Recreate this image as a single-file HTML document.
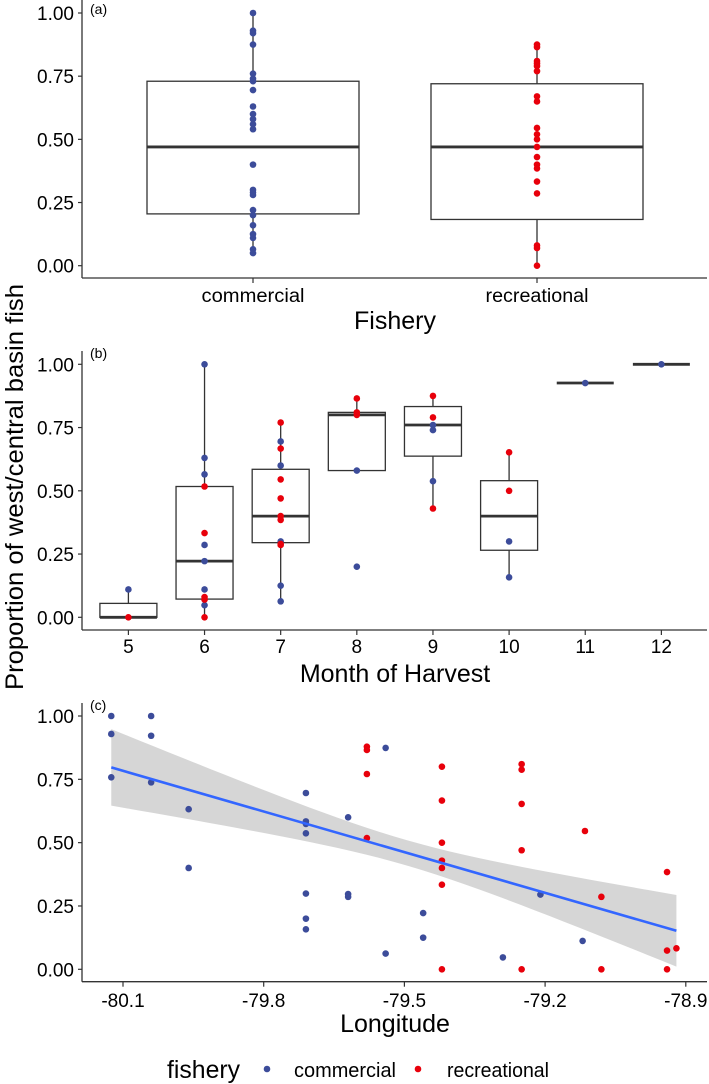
<!DOCTYPE html>
<html><head><meta charset="utf-8">
<style>
html,body{margin:0;padding:0;background:#fff;}
svg{display:block;font-family:"Liberation Sans",Arial,sans-serif;}
</style></head>
<body>
<svg id="fig" width="709" height="1084" viewBox="0 0 709 1084" xmlns="http://www.w3.org/2000/svg"></svg>
<script>
// ---------- Panel (a) data ----------
const fisheryCats = ["commercial","recreational"];
const aBoxQ1 = [0.205, 0.183];
const aBoxMed = [0.47, 0.47];
const aBoxQ3 = [0.73, 0.72];
const aBoxLo = [0.05, 0.0];
const aBoxHi = [1.0, 0.875];
const aCommercial = [1.0,0.93,0.92,0.875,0.76,0.74,0.73,0.695,0.63,0.60,0.58,0.56,0.54,0.40,0.30,0.29,0.28,0.22,0.20,0.16,0.125,0.11,0.065,0.05];
const aRecreational = [0.875,0.865,0.81,0.80,0.79,0.77,0.67,0.65,0.545,0.52,0.50,0.47,0.43,0.40,0.385,0.333,0.286,0.08,0.07,0.0];
const yTicks = ["0.00","0.25","0.50","0.75","1.00"];
const yTickVals = [0,0.25,0.5,0.75,1];

// ---------- Panel (b) data ----------
const months = [5,6,7,8,9,10,11,12];
const bQ1 = [0,0.072,0.295,0.58,0.637,0.265,0.926,1.0];
const bMed = [0,0.222,0.40,0.80,0.76,0.40,0.926,1.0];
const bQ3 = [0.055,0.517,0.585,0.81,0.833,0.54,0.926,1.0];
const bLo = [0,0,0.063,0.58,0.43,0.158,0.926,1.0];
const bHi = [0.11,1.0,0.77,0.865,0.875,0.652,0.926,1.0];
const bComMonth = [5,6,6,6,6,6,6,6,7,7,7,7,7,8,8,9,9,9,10,10,11,12];
const bComVal = [0.11,1.0,0.63,0.565,0.286,0.222,0.11,0.048,0.695,0.60,0.30,0.125,0.063,0.58,0.20,0.76,0.74,0.538,0.30,0.158,0.926,1.0];
const bRecMonth = [5,6,6,6,6,6,7,7,7,7,7,7,7,7,8,8,8,9,9,9,10,10];
const bRecVal = [0,0.517,0.333,0.08,0.07,0,0.77,0.667,0.545,0.47,0.40,0.385,0.29,0.286,0.865,0.81,0.80,0.875,0.79,0.43,0.652,0.50];

// ---------- Panel (c) data ----------
const lonTicks = [-80.1,-79.8,-79.5,-79.2,-78.9];
const lonTickLabels = ["-80.1","-79.8","-79.5","-79.2","-78.9"];
const cComLon = [-80.125,-80.125,-80.125,-80.04,-80.04,-80.04,-79.96,-79.96,-79.71,-79.71,-79.71,-79.71,-79.71,-79.71,-79.71,-79.62,-79.62,-79.62,-79.54,-79.54,-79.46,-79.46,-79.29,-79.21,-79.12];
const cComVal = [1.0,0.929,0.758,1.0,0.922,0.738,0.632,0.40,0.696,0.584,0.574,0.537,0.299,0.20,0.158,0.60,0.297,0.286,0.874,0.062,0.222,0.125,0.047,0.295,0.112];
const cRecLon = [-79.58,-79.58,-79.58,-79.58,-79.42,-79.42,-79.42,-79.42,-79.42,-79.42,-79.42,-79.25,-79.25,-79.25,-79.25,-79.25,-79.115,-79.08,-79.08,-78.94,-78.94,-78.94,-78.92];
const cRecVal = [0.879,0.866,0.771,0.518,0.80,0.666,0.50,0.429,0.40,0.334,0,0.81,0.788,0.653,0.47,0,0.546,0.286,0,0.384,0.074,0,0.083];
const fitLon = [-80.125,-78.92];
const fitVal = [0.797,0.152];
const ciCenterLon = [-79.5];
const ciMinHalf = [0.05];
const ciCurv = [0.052];

const NS="http://www.w3.org/2000/svg";
const svg=document.getElementById('fig');
const BLUE="#3C4C9A", RED="#E8000B", DARK="#333333";
function el(tag,attrs,parent){const e=document.createElementNS(NS,tag);for(const k in attrs)e.setAttribute(k,attrs[k]);(parent||svg).appendChild(e);return e;}
function txt(s,x,y,size,anchor,parent,tl){const t=el('text',{x:x,y:y,'font-size':size,'text-anchor':anchor||'middle',fill:'#000'},parent);if(tl){t.setAttribute('textLength',tl);t.setAttribute('lengthAdjust','spacingAndGlyphs');}t.textContent=s;return t;}

const X0=82, X1=707;
function yAxis(g,yMap,top,bottom,name){
  const ax=el('line',{x1:X0,y1:top,x2:X0,y2:bottom,stroke:DARK,'stroke-width':1.3},g);
  
  
  const xa=el('line',{x1:X0,y1:bottom,x2:X1,y2:bottom,stroke:DARK,'stroke-width':1.3},g);
  
  
  yTickVals.forEach((v,i)=>{
    const y=yMap(v);
    el('line',{x1:X0-4,y1:y,x2:X0,y2:y,stroke:DARK,'stroke-width':1.2},g);
    const t=txt(yTicks[i],74,y+7,19,'end',g,37);
    
    
  });
}
function point(g,x,y,c,nm){const p=el('circle',{cx:x,cy:y,r:3.3,fill:c},g);
  
  }
function box(g,cx,hw,q1,med,q3,lo,hi,yMap,nm){
  const bg=el('g',{},g);
  
  
  el('line',{x1:cx,y1:yMap(hi),x2:cx,y2:yMap(q3),stroke:DARK,'stroke-width':1.3},bg);
  el('line',{x1:cx,y1:yMap(q1),x2:cx,y2:yMap(lo),stroke:DARK,'stroke-width':1.3},bg);
  el('rect',{x:cx-hw,y:yMap(q3),width:2*hw,height:Math.max(0,yMap(q1)-yMap(q3)),fill:'#fff',stroke:DARK,'stroke-width':1.3},bg);
  el('line',{x1:cx-hw,y1:yMap(med),x2:cx+hw,y2:yMap(med),stroke:DARK,'stroke-width':2.8},bg);
}

// ===== Panel A =====
const gA=el('g',{});


const yA=v=>265.7-v*252.7;
const xA=i=>253+i*284;
fisheryCats.forEach((c,i)=>{
  box(gA,xA(i),106,aBoxQ1[i],aBoxMed[i],aBoxQ3[i],aBoxLo[i],aBoxHi[i],yA,'box-'+c);
});
aCommercial.forEach(v=>point(gA,xA(0),yA(v),BLUE,'point-commercial'));
aRecreational.forEach(v=>point(gA,xA(1),yA(v),RED,'point-recreational'));
yAxis(gA,yA,0,278,'panel-a');
fisheryCats.forEach((c,i)=>{
  el('line',{x1:xA(i),y1:278,x2:xA(i),y2:283,stroke:DARK,'stroke-width':1.2},gA);
  const t=txt(c,xA(i),302,19,'middle',gA,103);
  
  
});
const tA=txt('Fishery',395,329,25,'middle',gA);


const la=txt('(a)',90,14,14,'start',gA);



// ===== Panel B =====
const gB=el('g',{});


const yB=v=>617.3-v*253;
const xB=m=>128.4+(m-5)*76.14;
months.forEach((m,i)=>{
  box(gB,xB(m),28.5,bQ1[i],bMed[i],bQ3[i],bLo[i],bHi[i],yB,'box-month-'+m);
});
bComMonth.forEach((m,i)=>point(gB,xB(m),yB(bComVal[i]),BLUE,'point-commercial'));
bRecMonth.forEach((m,i)=>point(gB,xB(m),yB(bRecVal[i]),RED,'point-recreational'));
yAxis(gB,yB,351,630,'panel-b');
months.forEach(m=>{
  el('line',{x1:xB(m),y1:630,x2:xB(m),y2:635,stroke:DARK,'stroke-width':1.2},gB);
  const t=txt(String(m),xB(m),653,19,'middle',gB);
  
  
});
const tB=txt('Month of Harvest',395,682,25,'middle',gB);


const lb=txt('(b)',90,358,14,'start',gB);



// ===== Panel C =====
const gC=el('g',{});


const yC=v=>969.3-v*253.3;
const xC=l=>123+(l+80.1)/1.2*562.8;
// confidence band
const fitAt=l=>fitVal[0]+(fitVal[1]-fitVal[0])*(l-fitLon[0])/(fitLon[1]-fitLon[0]);
const hwAt=l=>Math.sqrt(ciMinHalf[0]*ciMinHalf[0]+ciCurv[0]*(l-ciCenterLon[0])*(l-ciCenterLon[0]));
let upper=[],lower=[];
const N=40;
for(let k=0;k<=N;k++){const l=fitLon[0]+(fitLon[1]-fitLon[0])*k/N;upper.push(xC(l)+','+yC(fitAt(l)+hwAt(l)));lower.unshift(xC(l)+','+yC(fitAt(l)-hwAt(l)));}
const band=el('polygon',{points:upper.concat(lower).join(' '),fill:'#999999','fill-opacity':0.4},gC);


cComLon.forEach((l,i)=>point(gC,xC(l),yC(cComVal[i]),BLUE,'point-commercial'));
cRecLon.forEach((l,i)=>point(gC,xC(l),yC(cRecVal[i]),RED,'point-recreational'));
const fl=el('line',{x1:xC(fitLon[0]),y1:yC(fitVal[0]),x2:xC(fitLon[1]),y2:yC(fitVal[1]),stroke:'#3366FF','stroke-width':2.6},gC);


yAxis(gC,yC,703,981.7,'panel-c');
lonTicks.forEach((l,i)=>{
  el('line',{x1:xC(l),y1:981.7,x2:xC(l),y2:986.7,stroke:DARK,'stroke-width':1.2},gC);
  const t=txt(lonTickLabels[i],xC(l),1007,19,'middle',gC);
  
  
});
const tC=txt('Longitude',395,1032,25,'middle',gC);


const lc=txt('(c)',90,710,14,'start',gC);



// ===== Shared y title =====
const yt=el('text',{x:0,y:0,'font-size':25,'text-anchor':'middle',fill:'#000',transform:'translate(23,487) rotate(-90)',textLength:406,lengthAdjust:'spacingAndGlyphs'});
yt.textContent='Proportion of west/central basin fish';



// ===== Legend =====
const gL=el('g',{});


const lt=txt('fishery',167,1078,25,'start',gL,73);


const le1=el('g',{},gL);


el('circle',{cx:267,cy:1069,r:3.3,fill:BLUE},le1);
txt('commercial',294,1077,20,'start',le1,102);
const le2=el('g',{},gL);


el('circle',{cx:418,cy:1069,r:3.3,fill:RED},le2);
txt('recreational',447,1077,20,'start',le2,102);
</script>
</body></html>
